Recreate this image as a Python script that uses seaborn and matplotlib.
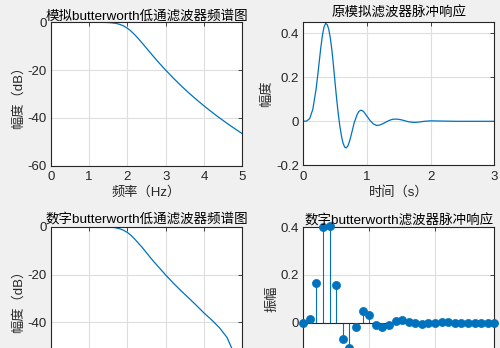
import numpy as np
import pandas as pd
import matplotlib
matplotlib.use("Agg")
import matplotlib.pyplot as plt
import seaborn as sns

# ---------------- data ----------------
freq_hz = [0.0, 0.2, 0.4, 0.6, 0.8, 1.0, 1.2, 1.4, 1.5, 1.6, 1.7, 1.8, 1.9, 2.0,
           2.1, 2.2, 2.3, 2.4, 2.5, 2.6, 2.7, 2.8, 2.9, 3.0, 3.2, 3.4, 3.6, 3.8,
           4.0, 4.2, 4.4, 4.6, 4.8, 5.0]
analog_db = [0.0, 0.0, 0.0, 0.0, 0.0, 0.0, -0.01, -0.04, -0.1, -0.22, -0.45, -0.85,
             -1.5, -2.47, -3.76, -5.32, -7.07, -8.93, -10.84, -12.75, -14.63, -16.48,
             -18.27, -20.0, -23.36, -26.51, -29.48, -32.29, -34.96, -37.51, -39.93,
             -42.25, -44.47, -46.6]
digital_db = [0.0, 0.0, 0.0, 0.0, 0.0, 0.0, -0.01, -0.04, -0.1, -0.22, -0.45, -0.85,
              -1.5, -2.4, -3.7, -5.3, -7.1, -8.9, -10.9, -12.9, -14.8, -16.6,
              -18.4, -20.2, -23.6, -26.8, -29.8, -32.9, -36.1, -39.0, -42.2,
              -46.3, -53.5, -68.0]

time_s = [0.000, 0.050, 0.100, 0.150, 0.200, 0.225, 0.250, 0.275, 0.300, 0.325,
          0.350, 0.375, 0.400, 0.425, 0.450, 0.475, 0.500, 0.525, 0.550, 0.575,
          0.600, 0.625, 0.650, 0.675, 0.700, 0.725, 0.750, 0.800, 0.850, 0.875,
          0.900, 0.925, 0.950, 1.000, 1.050, 1.100, 1.150, 1.200, 1.250, 1.300,
          1.350, 1.400, 1.450, 1.500, 1.550, 1.600, 1.650, 1.700, 1.750, 1.800,
          1.850, 1.900, 1.950, 2.000, 2.200, 2.400, 2.600, 2.800, 3.000]
analog_imp = [0.000, 0.001, 0.012, 0.055, 0.145, 0.205, 0.270, 0.335, 0.390, 0.428,
              0.445, 0.440, 0.418, 0.378, 0.322, 0.250, 0.172, 0.098, 0.032, -0.024,
              -0.068, -0.100, -0.117, -0.121, -0.112, -0.092, -0.065, -0.006, 0.034,
              0.045, 0.050, 0.049, 0.043, 0.023, 0.003, -0.012, -0.019, -0.017,
              -0.011, -0.003, 0.004, 0.009, 0.010, 0.009, 0.006, 0.002, -0.002,
              -0.004, -0.005, -0.004, -0.002, 0.000, 0.001, 0.002, 0.001, 0.000,
              0.000, 0.000, 0.000]

sample_n = list(range(30))
digital_imp = [0.0, 0.015, 0.165, 0.40, 0.405, 0.16, -0.07, -0.108, -0.02, 0.048,
               0.032, -0.008, -0.018, -0.008, 0.008, 0.009, 0.003, -0.003, -0.004,
               -0.002, 0.0, 0.001, 0.001, 0.0, 0.0, 0.0, 0.0, 0.0, 0.0, 0.0]

titles = ["模拟butterworth低通滤波器频谱图", "原模拟滤波器脉冲响应",
          "数字butterworth低通滤波器频谱图", "数字butterworth滤波器脉冲响应"]

# ---------------- style ----------------
sns.set_theme(style="white")
FAM = ["Liberation Sans", "Noto Sans CJK SC", "DejaVu Sans"]
plt.rcParams["font.family"] = FAM
plt.rcParams["axes.unicode_minus"] = False

BLUE = "#0072BD"
DARK = "#262626"
GRID = "#DEDEDE"
BG = "#F0F0F0"

fig = plt.figure(figsize=(5.0, 3.48), dpi=100, facecolor=BG)
H = 348.0
W = 500.0

def make_ax(left, top, right, height):
    return fig.add_axes([left / W, (H - top - height) / H, (right - left) / W, height / H])

ax1 = make_ax(50.7, 22.3, 242.3, 143.4)
ax2 = make_ax(303.3, 22.3, 494.3, 143.0)
ax3 = make_ax(50.7, 226.7, 242.3, 143.4)
ax4 = make_ax(303.3, 227.3, 494.3, 143.0)

def style(ax):
    ax.set_facecolor("white")
    for s in ax.spines.values():
        s.set_color(DARK)
        s.set_linewidth(0.8)
    ax.grid(True, color=GRID, linewidth=0.8)
    ax.set_axisbelow(True)
    ax.tick_params(direction="in", length=3, width=0.6, colors=DARK,
                   labelsize=9.5, top=True, right=True, pad=3)
    ax.tick_params(axis="x", pad=4)

tfont = dict(fontsize=9.7, color="black", family=FAM)
lfont = dict(fontsize=9.5, color=DARK, family=FAM)

# top-left
df1 = pd.DataFrame({"f": freq_hz, "db": analog_db})
sns.lineplot(data=df1, x="f", y="db", ax=ax1, color=BLUE, linewidth=0.9)
ax1.set_xlim(0, 5)
ax1.set_ylim(-60, 0)
ax1.set_xticks([0, 1, 2, 3, 4, 5])
ax1.set_yticks([-60, -40, -20, 0])
ax1.set_title(titles[0], pad=2, **tfont)
ax1.set_xlabel("频率（Hz）", labelpad=2, **lfont)
ax1.set_ylabel("幅度（dB）", labelpad=2, **lfont)
style(ax1)

# top-right
df2 = pd.DataFrame({"t": time_s, "h": analog_imp})
sns.lineplot(data=df2, x="t", y="h", ax=ax2, color=BLUE, linewidth=0.9)
ax2.set_xlim(0, 3)
ax2.set_ylim(-0.2, 0.45)
ax2.set_xticks([0, 1, 2, 3])
ax2.set_yticks([-0.2, 0, 0.2, 0.4])
ax2.set_yticklabels(["-0.2", "0", "0.2", "0.4"])
ax2.set_title(titles[1], pad=4, **tfont)
ax2.set_xlabel("时间（s）", labelpad=2, **lfont)
ax2.set_ylabel("幅度", labelpad=2, **lfont)
style(ax2)

# bottom-left (its lower part is cropped by the figure edge, as in the reference)
df3 = pd.DataFrame({"f": freq_hz, "db": digital_db})
sns.lineplot(data=df3, x="f", y="db", ax=ax3, color=BLUE, linewidth=0.9)
ax3.set_xlim(0, 5)
ax3.set_ylim(-60, 0)
ax3.set_xticks([0, 1, 2, 3, 4, 5])
ax3.set_xticklabels([])
ax3.set_yticks([-40, -20, 0])
ax3.set_title(titles[2], pad=2, **tfont)
ax3.set_xlabel("")
ax3.set_ylabel("幅度（dB）", labelpad=2, **lfont)
style(ax3)

# bottom-right (stem)
df4 = pd.DataFrame({"n": sample_n, "h": digital_imp})
ax4.vlines(df4["n"], 0, df4["h"], color=BLUE, linewidth=0.8)
ax4.axhline(0, color=DARK, linewidth=0.8)
sns.scatterplot(data=df4, x="n", y="h", ax=ax4, color=BLUE, s=34,
                edgecolor=BLUE, linewidth=0.5, zorder=3, clip_on=False)
ax4.set_xlim(0, 29)
ax4.set_ylim(-0.2, 0.4)
ax4.set_xticks([0, 10, 20])
ax4.set_xticklabels([])
ax4.set_yticks([0, 0.2, 0.4])
ax4.set_yticklabels(["0", "0.2", "0.4"])
ax4.set_title(titles[3], pad=2, **tfont)
ax4.set_xlabel("")
ax4.set_ylabel("振幅", labelpad=2, **lfont)
style(ax4)

fig.savefig("out.png", dpi=100, facecolor=BG)
